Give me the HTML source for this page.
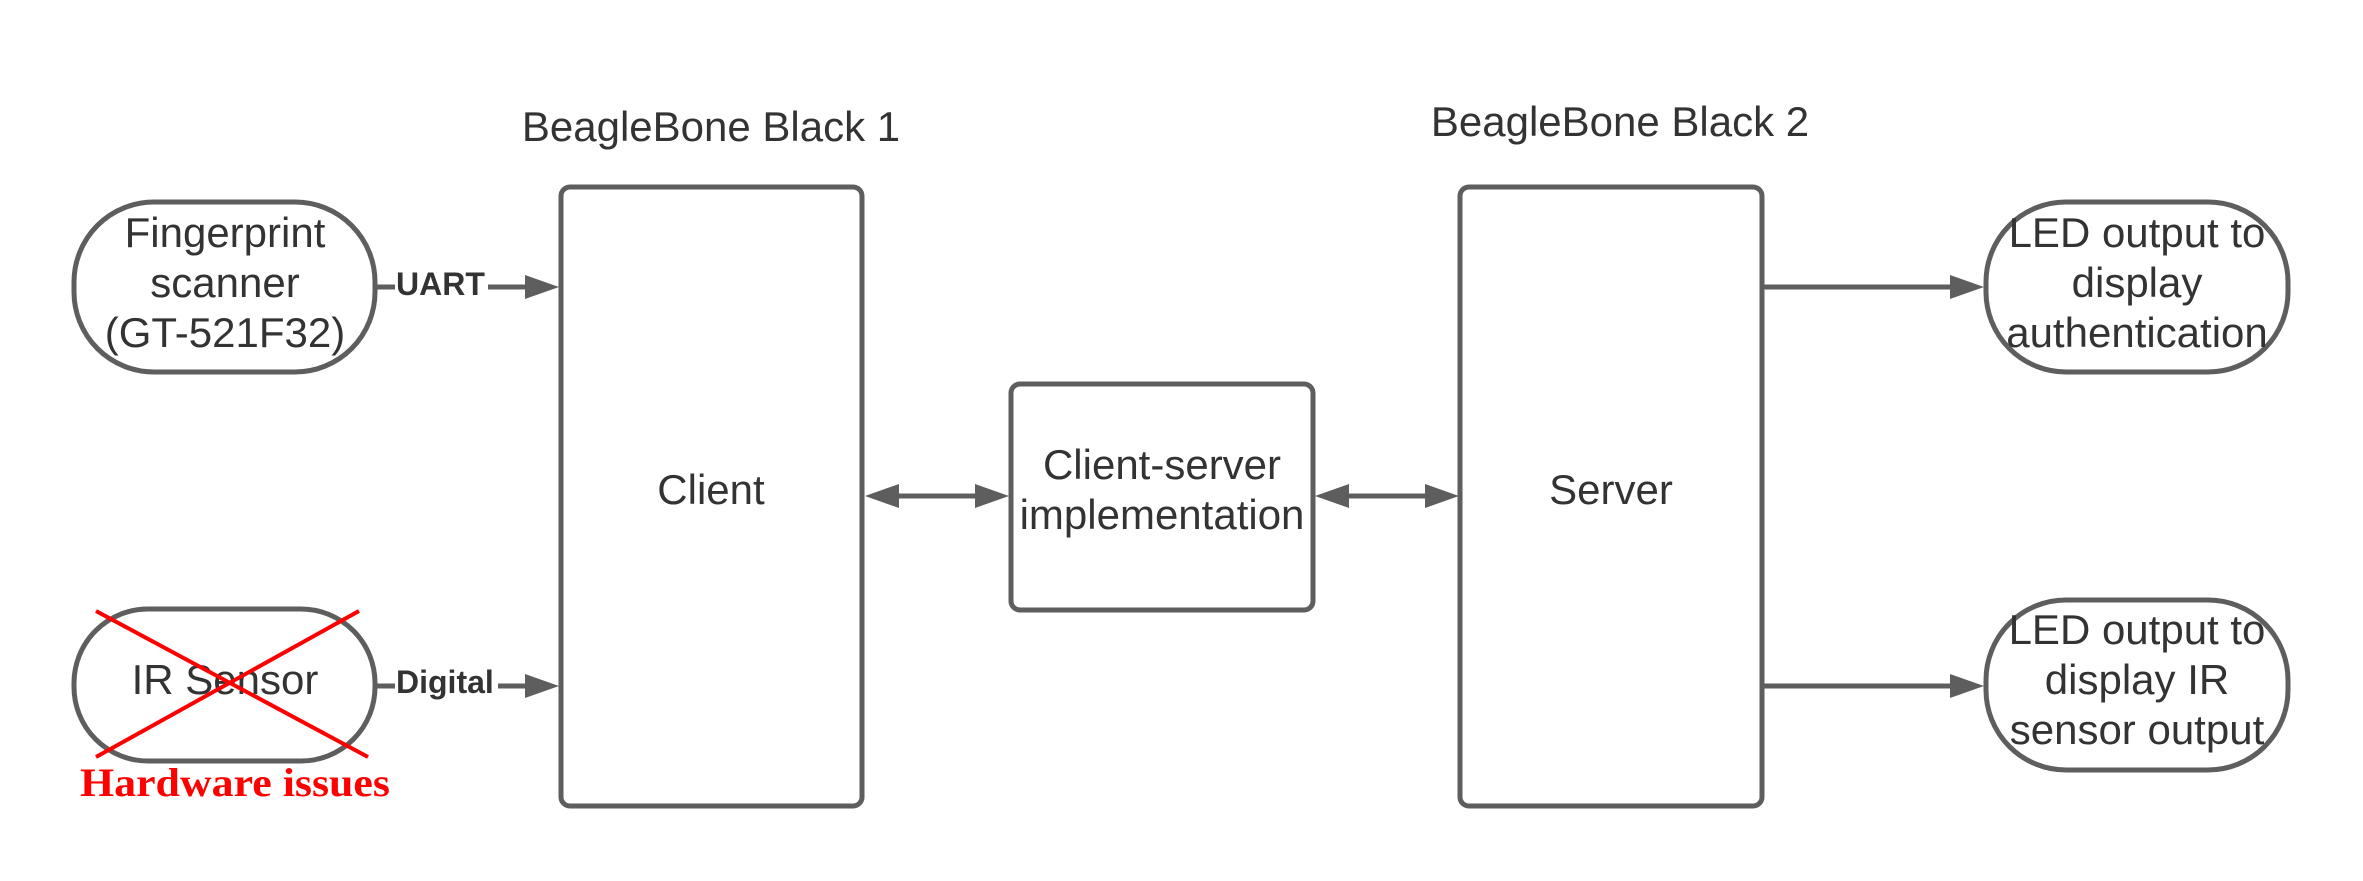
<!DOCTYPE html>
<html><head><meta charset="utf-8"><style>
html,body{margin:0;padding:0;background:#fff;}
svg{display:block}
text{font-family:"Liberation Sans",sans-serif;fill:#333;}
</style></head><body>
<svg width="2363" height="881" viewBox="0 0 2363 881" xmlns="http://www.w3.org/2000/svg">
<g fill="none" stroke="#5e5e5e" stroke-width="5">
<rect x="561" y="187" width="301" height="619" rx="9"/>
<rect x="1460" y="187" width="302" height="619" rx="9"/>
<rect x="1011" y="384" width="302" height="226" rx="9"/>
<rect x="74" y="202" width="301" height="170" rx="80"/>
<rect x="74" y="609" width="301" height="152" rx="74"/>
<rect x="1986" y="202" width="302" height="170" rx="80"/>
<rect x="1986" y="600" width="302" height="170" rx="80"/>
<line x1="375" y1="287" x2="395" y2="287"/>
<line x1="488" y1="287" x2="530" y2="287"/>
<line x1="375" y1="686" x2="395" y2="686"/>
<line x1="498" y1="686" x2="530" y2="686"/>
<line x1="895" y1="496" x2="980" y2="496"/>
<line x1="1345" y1="496" x2="1430" y2="496"/>
<line x1="1762" y1="287" x2="1955" y2="287"/>
<line x1="1762" y1="686" x2="1955" y2="686"/>
</g>
<g fill="#5e5e5e">
<polygon points="525,275 559,287 525,299"/>
<polygon points="525,674 559,686 525,698"/>
<polygon points="1950,275 1984,287 1950,299"/>
<polygon points="1950,674 1984,686 1950,698"/>
<polygon points="865,496 899,484 899,508"/>
<polygon points="1009,496 975,484 975,508"/>
<polygon points="1315,496 1349,484 1349,508"/>
<polygon points="1459,496 1425,484 1425,508"/>
</g>
<g font-size="42" text-anchor="middle">
<text x="711" y="141">BeagleBone Black 1</text>
<text x="1620" y="136">BeagleBone Black 2</text>
<text x="711" y="504">Client</text>
<text x="1611" y="504">Server</text>
<text x="1162" y="479">Client-server</text>
<text x="1162" y="529">implementation</text>
<text x="225" y="247">Fingerprint</text>
<text x="225" y="297">scanner</text>
<text x="225" y="347">(GT-521F32)</text>
<text x="225" y="694">IR Sensor</text>
<text x="2137" y="247">LED output to</text>
<text x="2137" y="297">display</text>
<text x="2137" y="347">authentication</text>
<text x="2137" y="644">LED output to</text>
<text x="2137" y="694">display IR</text>
<text x="2137" y="744">sensor output</text>
</g>
<text x="396" y="295" font-size="32" font-weight="bold">UART</text>
<text x="396" y="693" font-size="32" font-weight="bold">Digital</text>
<g stroke="#ff0000" stroke-width="4">
<line x1="96" y1="611" x2="368" y2="757"/>
<line x1="359" y1="611" x2="96" y2="757"/>
</g>
<text x="80" y="796" font-size="40" font-weight="bold" style="font-family:'Liberation Serif',serif;fill:#ff0000" textLength="310" lengthAdjust="spacingAndGlyphs">Hardware issues</text>
</svg>
</body></html>
